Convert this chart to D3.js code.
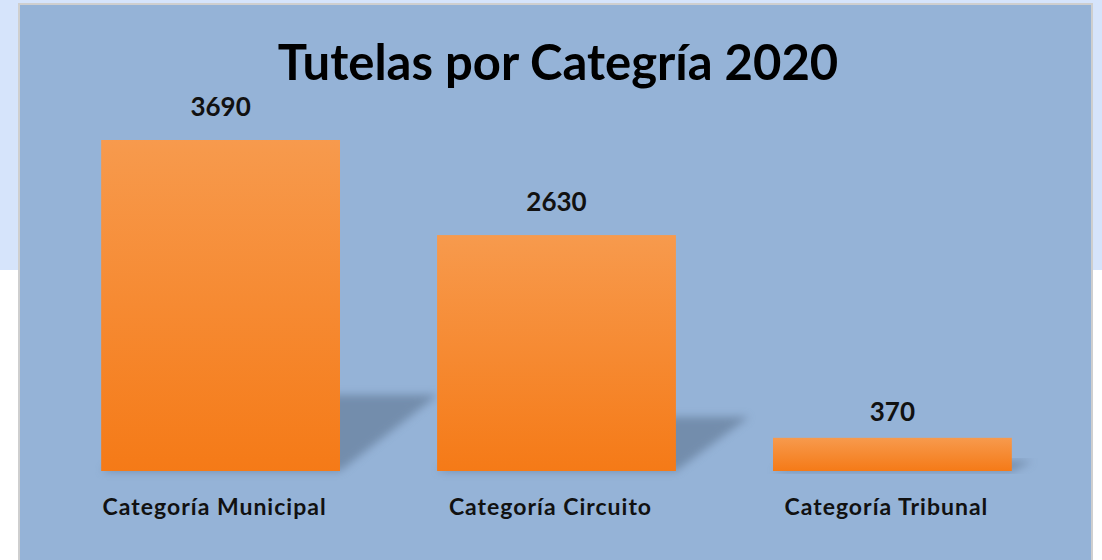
<!DOCTYPE html>
<html>
<head>
<meta charset="utf-8">
<script src="https://cdn.jsdelivr.net/npm/d3@7"></script>
<style>
  html, body { margin: 0; padding: 0; background: #ffffff; }
  svg { display: block; }
</style>
</head>
<body>
<svg id="chart" width="1102" height="560"></svg>
<script>
// DATA
const categories = ["Categoría Municipal", "Categoría Circuito", "Categoría Tribunal"];
const values = [3690, 2630, 370];
const title = "Tutelas por Categría 2020";

const W = 1102, H = 560;
const frame = { x: 19, y: 4, w: 1073, h: 560 };
const plot = { left: 34, right: 1079, top: 140, bottom: 471 };
const font = "Lato, 'Open Sans', sans-serif";

const svg = d3.select("#chart");
const defs = svg.append("defs");

// page backdrop: light blue band at top, white below
svg.append("rect").attr("width", W).attr("height", 270).attr("fill", "#d6e4fb");

// chart frame
svg.append("rect")
  .attr("x", frame.x).attr("y", frame.y)
  .attr("width", frame.w).attr("height", frame.h)
  .attr("fill", "#95b3d7")
  .attr("stroke", "#cfcfcf")
  .attr("stroke-width", 2);

// gradients / filters
const grad = defs.append("linearGradient")
  .attr("id", "barGrad").attr("x1", 0).attr("y1", 0).attr("x2", 0).attr("y2", 1);
grad.append("stop").attr("offset", "0%").attr("stop-color", "#f79a4d");
grad.append("stop").attr("offset", "100%").attr("stop-color", "#f57a17");

defs.append("filter").attr("id", "blur")
  .attr("x", "-20%").attr("y", "-30%").attr("width", "140%").attr("height", "160%")
  .append("feGaussianBlur").attr("stdDeviation", 4);

// SCALES
const x = d3.scaleBand()
  .domain(categories)
  .range([plot.left, plot.right])
  .paddingInner(0.289)
  .paddingOuter(0.2);

const y = d3.scaleLinear()
  .domain([0, d3.max(values)])
  .range([plot.bottom, plot.top]);

const data = categories.map((c, i) => ({ cat: c, value: values[i] }));

// SHADOWS (perspective, cast back-right)
const g = svg.append("g");
g.selectAll(".shadow")
  .data(data)
  .enter()
  .append("path")
  .attr("class", "shadow")
  .attr("d", d => {
    const x0 = x(d.cat), x1 = x(d.cat) + x.bandwidth();
    const h = plot.bottom - y(d.value);
    const dy = Math.max(h * 0.23, 10);
    const dx = h * 0.26 + 12;
    return `M${x0},${plot.bottom} L${x1},${plot.bottom} L${x1 + dx},${plot.bottom - dy} L${x0 + dx},${plot.bottom - dy} Z`;
  })
  .attr("fill", "#5d7490")
  .attr("opacity", 0.6)
  .attr("filter", "url(#blur)");

// BARS
g.selectAll(".bar")
  .data(data)
  .enter()
  .append("rect")
  .attr("class", "bar")
  .attr("x", d => x(d.cat))
  .attr("y", d => y(d.value))
  .attr("width", x.bandwidth())
  .attr("height", d => plot.bottom - y(d.value))
  .attr("fill", "url(#barGrad)");

// VALUE LABELS
g.selectAll(".val")
  .data(data)
  .enter()
  .append("text")
  .attr("class", "val")
  .attr("x", d => x(d.cat) + x.bandwidth() / 2)
  .attr("y", d => y(d.value) - Math.min(24, (plot.bottom - y(d.value)) / 2))
  .attr("text-anchor", "middle")
  .style("font-family", font)
  .style("font-weight", "bold")
  .style("font-size", "26px")
  .attr("fill", "#111")
  .text(d => d.value);

// CATEGORY LABELS
g.selectAll(".cat")
  .data(data)
  .enter()
  .append("text")
  .attr("class", "cat")
  .attr("x", d => x(d.cat) + x.bandwidth() / 2 - 6)
  .attr("y", plot.bottom + 44)
  .attr("text-anchor", "middle")
  .style("font-family", font)
  .style("font-weight", "bold")
  .style("font-size", "23px")
  .style("letter-spacing", "1px")
  .attr("fill", "#111")
  .text(d => d.cat);

// TITLE
svg.append("text")
  .attr("x", 558)
  .attr("y", 80)
  .attr("text-anchor", "middle")
  .style("font-family", font)
  .style("font-weight", "bold")
  .style("font-size", "49px")
  .attr("fill", "#000")
  .text(title);
</script>
</body>
</html>
